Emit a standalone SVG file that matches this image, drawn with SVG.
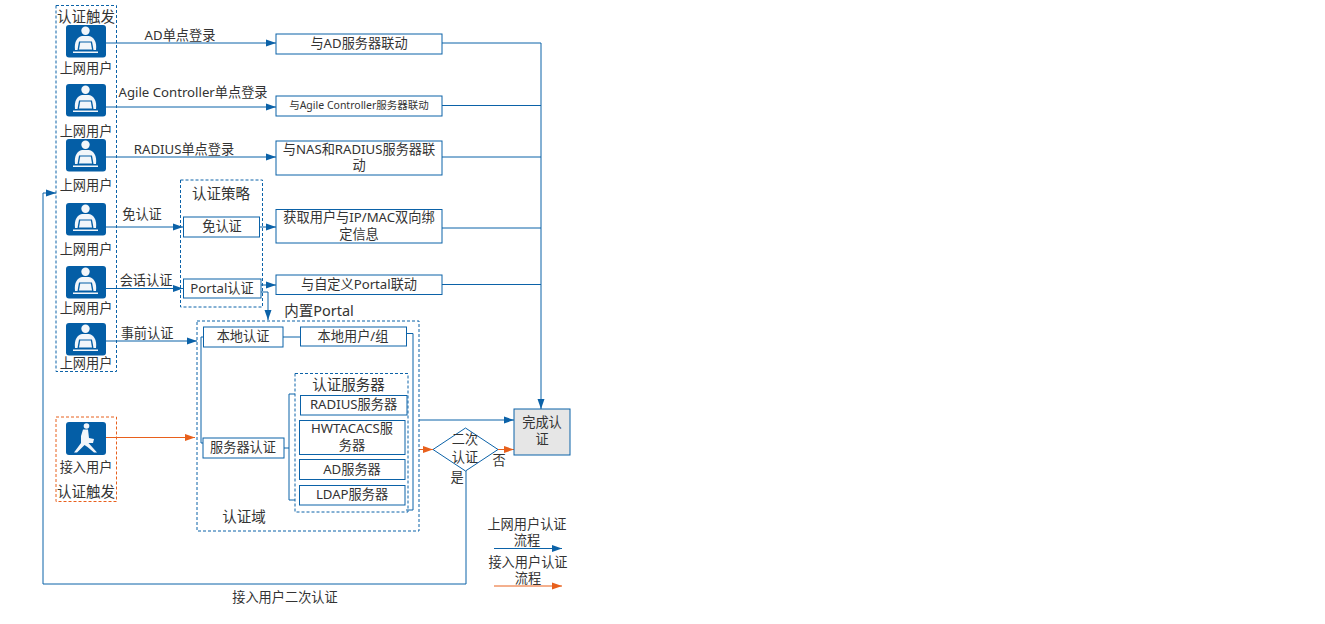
<svg xmlns="http://www.w3.org/2000/svg" width="1325" height="624" viewBox="0 0 1325 624">
<style>
text{font-family:"Noto Sans","Noto Sans CJK SC","Liberation Sans",sans-serif;font-size:13.200px;fill:#333;text-anchor:middle}
.t14{font-size:14.500px}.t11{font-size:10.500px}
.box{fill:#fff;stroke:#0b62a8;stroke-width:1}
.dash{fill:none;stroke:#0b62a8;stroke-width:1;stroke-dasharray:3 2}
.odash{fill:none;stroke:#e8601c;stroke-width:1;stroke-dasharray:3 2}
.l{fill:none;stroke:#0b62a8;stroke-width:1}
.a{marker-end:url(#ab)}
.o{fill:none;stroke:#e8601c;stroke-width:1;marker-end:url(#ao)}
.ic{fill:#045ea6}
.w{fill:#f2f6fa}
</style>
<defs>
<marker id="ab" markerUnits="userSpaceOnUse" markerWidth="10" markerHeight="8" refX="10" refY="4" orient="auto"><path d="M0 0.5L10 4L0 7.5z" fill="#0b62a8"/></marker>
<marker id="ao" markerUnits="userSpaceOnUse" markerWidth="10" markerHeight="8" refX="10" refY="4" orient="auto"><path d="M0 0.5L10 4L0 7.5z" fill="#e8601c"/></marker>
<g id="user"><rect x="0" y="0" width="40" height="32.500" rx="3" class="ic"/><circle cx="19.500" cy="5.800" r="4.200" class="w"/><path d="M9 25C8 17 11 12 16 11L23 11C28 12 31 17 30 25z" class="w"/><path d="M13 16.500H26L27.500 25H11.500z" fill="#045ea6"/><path d="M14.200 17.500H24.800L26 24.500H13z" class="w"/><rect x="7" y="26.500" width="25" height="1.500" class="w"/></g>
<g id="walker"><rect x="0" y="0" width="40" height="33" rx="3" class="ic"/><circle cx="20.500" cy="4" r="2.800" class="w"/><path d="M17 7.500L22 7.500L23 16L28 17L27 21L22.500 21L27 26L31 30.500L28 30.500L21.500 25L18.500 23L11 30.500L8 30.500L15 21L15 14z" class="w"/></g>
</defs>
<g id="connectors">
<path class="l a" d="M106 43H276"/><path class="l a" d="M106 107H276"/><path class="l a" d="M106 157H276"/>
<path class="l a" d="M106 227H183"/><path class="l a" d="M106 288.500H183"/><path class="l a" d="M106 341H197"/>
<path class="l a" d="M259 227H276"/><path class="l a" d="M261 285H276"/><path class="l a" d="M261 292H268V320"/>
<path class="l" d="M442 43H541"/><path class="l" d="M442 105.500H541"/><path class="l" d="M442 157H541"/><path class="l" d="M442 228H541"/><path class="l" d="M442 284.500H541"/>
<path class="l a" d="M541 43V409"/>
<path class="l" d="M283 337H300"/>
<path class="l" d="M203 337H201V443H203"/>
<path class="l" d="M284 448H289"/>
<path class="l" d="M295 394H289V500H295"/>
<path class="l" d="M406 333.500H413V510H406"/>
<path class="l a" d="M419 420H514"/>
<path class="o" d="M419 449.500H433"/><path class="o" d="M498 449.500H514"/>
<path class="o" d="M106 437.500H195"/>
<path class="l a" d="M466 471V584H43V193H56"/>
<path class="l a" d="M494 548.500H562"/><path class="o" d="M494 586H562"/>
</g>
<g id="trigger-group"><rect class="dash" x="56" y="5.500" width="60.500" height="366"/><text class="t14" x="86" y="22">认证触发</text></g>
<g id="user1"><use href="#user" x="66" y="25"/><text x="86" y="73">上网用户</text></g>
<g id="user2"><use href="#user" x="66" y="84"/><text x="86" y="136">上网用户</text></g>
<g id="user3"><use href="#user" x="66" y="139"/><text x="86" y="190">上网用户</text></g>
<g id="user4"><use href="#user" x="66" y="203"/><text x="86" y="254">上网用户</text></g>
<g id="user5"><use href="#user" x="66" y="266"/><text x="86" y="313">上网用户</text></g>
<g id="user6"><use href="#user" x="66" y="323"/><text x="86" y="368">上网用户</text></g>
<g id="access-user"><rect class="odash" x="56" y="417" width="60.500" height="84.500"/><use href="#walker" x="66" y="422"/><text x="86" y="472">接入用户</text><text class="t14" x="86" y="497">认证触发</text></g>
<g id="labels">
<text x="180" y="40">AD单点登录</text><text x="193" y="97">Agile Controller单点登录</text><text x="184" y="154">RADIUS单点登录</text>
<text x="142" y="219">免认证</text><text x="146" y="285">会话认证</text><text x="147" y="338">事前认证</text>
<text x="285" y="602">接入用户二次认证</text>
<text x="457" y="482">是</text><text x="499" y="465">否</text>
</g>
<g id="ad-link"><rect class="box" x="276" y="34" width="166" height="20"/><text x="359" y="48">与AD服务器联动</text></g>
<g id="agile-link"><rect class="box" x="276" y="96" width="166" height="20"/><text class="t11" x="359" y="109">与Agile Controller服务器联动</text></g>
<g id="nas-link"><rect class="box" x="276" y="141" width="166" height="34"/><text x="359" y="154">与NAS和RADIUS服务器联</text><text x="359" y="170">动</text></g>
<g id="bind-link"><rect class="box" x="276" y="209.500" width="166" height="33.500"/><text x="359" y="222">获取用户与IP/MAC双向绑</text><text x="359" y="239">定信息</text></g>
<g id="portal-link"><rect class="box" x="276" y="275" width="166" height="19.500"/><text x="359" y="289">与自定义Portal联动</text></g>
<g id="policy"><rect class="dash" x="180.500" y="180" width="82" height="127"/><text class="t14" x="221" y="199">认证策略</text></g>
<g id="free-auth"><rect class="box" x="183.500" y="217" width="76" height="20"/><text x="222" y="231">免认证</text></g>
<g id="portal-auth"><rect class="box" x="183.500" y="279" width="77.500" height="19"/><text x="222" y="293">Portal认证</text></g>
<g id="domain"><rect class="dash" x="197" y="321" width="222" height="210"/><text class="t14" x="319" y="316">内置Portal</text><text class="t14" x="244" y="522">认证域</text></g>
<g id="local-auth"><rect class="box" x="203.500" y="327" width="79.500" height="20"/><text x="243" y="341">本地认证</text></g>
<g id="local-user"><rect class="box" x="300.500" y="327" width="106" height="19"/><text x="353" y="341">本地用户/组</text></g>
<g id="server-auth"><rect class="box" x="203" y="438" width="81" height="20"/><text x="243" y="452">服务器认证</text></g>
<g id="auth-servers"><rect class="dash" x="295" y="373.500" width="113" height="138.500"/><text class="t14" x="348.500" y="390">认证服务器</text></g>
<g id="radius"><rect class="box" x="300.500" y="395.500" width="106.500" height="19.500"/><text x="353.500" y="409">RADIUS服务器</text></g>
<g id="hwtacacs"><rect class="box" x="299.500" y="420.500" width="105.500" height="34"/><text x="352" y="433">HWTACACS服</text><text x="352" y="450">务器</text></g>
<g id="ad-server"><rect class="box" x="299.500" y="459.500" width="105.500" height="20"/><text x="352" y="474">AD服务器</text></g>
<g id="ldap-server"><rect class="box" x="299.500" y="485.500" width="105.500" height="19.500"/><text x="352" y="499">LDAP服务器</text></g>
<g id="second-auth"><path class="box" d="M433 449.500L465.500 428L498 449.500L465.500 471z"/><text x="465" y="444">二次</text><text x="465" y="462">认证</text></g>
<g id="done"><rect x="514" y="409" width="56" height="46" fill="#e6e6e6" stroke="#0b62a8"/><text x="542" y="427">完成认</text><text x="542" y="444">证</text></g>
<g id="legend"><text x="527" y="529">上网用户认证</text><text x="527" y="545">流程</text><text x="528" y="567">接入用户认证</text><text x="528" y="583">流程</text></g>
</svg>
